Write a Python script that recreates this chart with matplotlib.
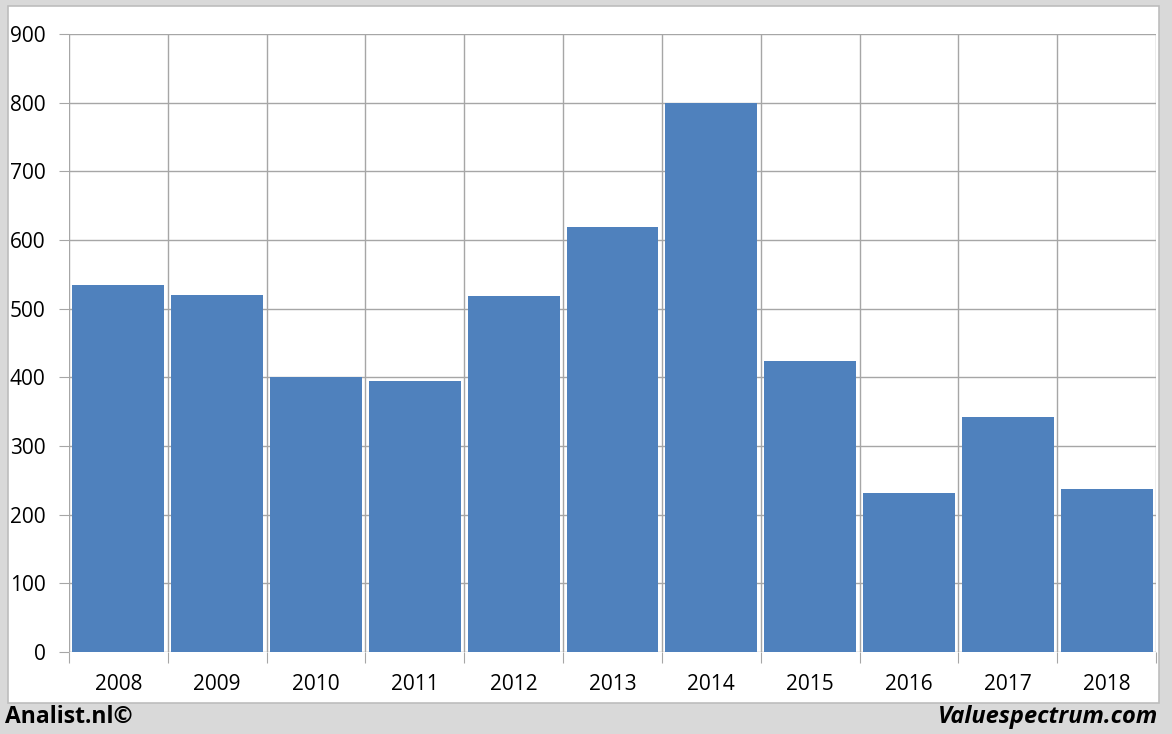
import matplotlib.pyplot as plt
from matplotlib.patches import Rectangle

years = ['2008', '2009', '2010', '2011', '2012', '2013', '2014', '2015', '2016', '2017', '2018']
values = [534, 520, 400, 394, 518, 619, 800, 424, 231, 342, 237]
y_ticks = [0, 100, 200, 300, 400, 500, 600, 700, 800, 900]

W, H = 1172, 734
plt.rcParams['font.family'] = ['Open Sans', 'DejaVu Sans']

fig = plt.figure(figsize=(W / 100, H / 100), dpi=100)
fig.patch.set_facecolor('#d9d9d9')

# white panel behind the chart
bg = fig.add_axes([0, 0, 1, 1], zorder=0)
bg.set_xlim(0, W)
bg.set_ylim(H, 0)
bg.axis('off')
bg.add_patch(Rectangle((8, 6), 1159 - 8, 703 - 6, facecolor='white',
                       edgecolor='#bdbdbd', linewidth=1.2))

# plot area in pixels
left, right, top, bottom = 69, 1156, 34, 652
ax = fig.add_axes([left / W, 1 - bottom / H, (right - left) / W, (bottom - top) / H], zorder=1)
ax.set_facecolor('none')

x = list(range(len(years)))
ax.bar(x, values, width=0.93, color='#4f81bd', zorder=2)

ax.set_xlim(-0.5, len(years) - 0.5)
ax.set_ylim(0, 900)

# grid lines: horizontal at y ticks, vertical at category boundaries
for v in y_ticks:
    ax.axhline(v, color='#a6a6a6', linewidth=1, zorder=1)
for b in range(len(years) + 1):
    ax.axvline(b - 0.5, color='#a6a6a6', linewidth=1, zorder=1)

ax.set_yticks(y_ticks)
ax.set_yticklabels([str(v) for v in y_ticks], fontsize=15)
ax.set_xticks([b - 0.5 for b in range(len(years) + 1)], minor=False)
ax.set_xticklabels([''] * (len(years) + 1))
ax.set_xticks(x, minor=True)
ax.set_xticklabels(years, minor=True, fontsize=15)

ax.tick_params(axis='y', length=7, color='#a6a6a6', pad=10)
ax.tick_params(axis='x', which='major', length=8, color='#a6a6a6')
ax.tick_params(axis='x', which='minor', length=0, pad=16)
for s in ax.spines.values():
    s.set_visible(False)

fig.text(5 / W, 1 - 717 / H, 'Analist.nl©', fontsize=16.5, fontweight='bold',
         ha='left', va='center')
fig.text(1158 / W, 1 - 717 / H, 'Valuespectrum.com', fontsize=17, fontweight='bold',
         style='italic', ha='right', va='center')

fig.savefig('out.png', dpi=100, facecolor=fig.get_facecolor())
